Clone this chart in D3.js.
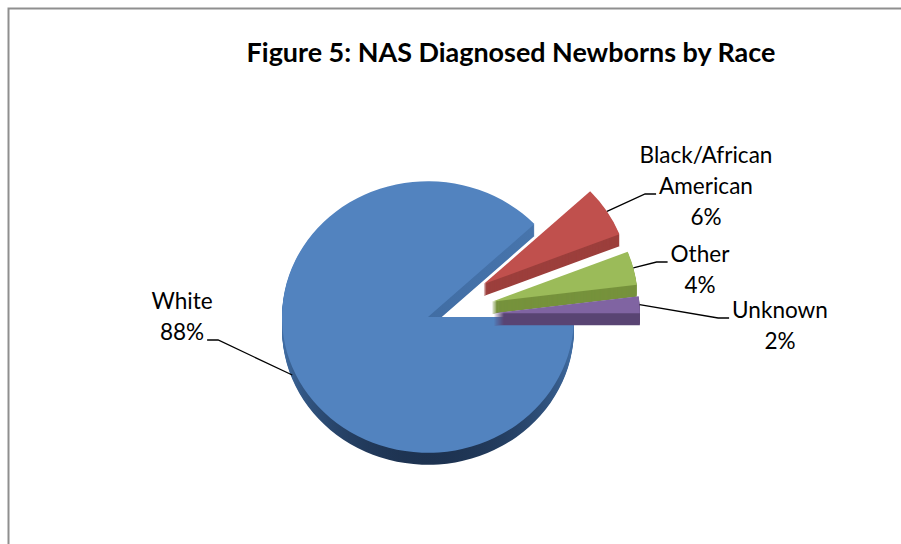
<!DOCTYPE html>
<html>
<head>
<meta charset="utf-8">
<script src="https://cdn.jsdelivr.net/npm/d3@7"></script>
<style>
  body { margin: 0; background: #fff; }
  svg { display: block; }
  text { font-family: Lato, "Open Sans", sans-serif; fill: #000; }
</style>
</head>
<body>
<svg id="chart" width="901" height="544"></svg>
<script>
// data
var categories = ['White', 'Black/African American', 'Other', 'Unknown'];
var percents = [88, 6, 4, 2];
var labelLines = [['White', '88%'], ['Black/African', 'American', '6%'], ['Other', '4%'], ['Unknown', '2%']];
var title = 'Figure 5: NAS Diagnosed Newborns by Race';

// colours: top surface / side
var topColors = ['#5283bf', '#c0504d', '#9bbb59', '#8064a2'];
var sideColors = ['url(#blueSide)', '#9c3f3c', '#76923c', '#5a4573'];

var W = 901, H = 544;
var cx = 428, cy = 317, R = 146, tilt = 0.93, depth = 12;
var explode = [0, 66, 66, 66];

// label layout (baseline of first line, centered) and leader attach
var labelPos = [[182, 309], [706, 163], [700, 262], [780, 318]];
var lineH = 31;
var attach = [{line: 1, side: 'right'}, {line: 1, side: 'left'}, {line: 0, side: 'left'}, {line: 0, side: 'left'}];

var svg = d3.select('#chart');

var defs = svg.append('defs');
var g = defs.append('linearGradient')
  .attr('id', 'blueSide')
  .attr('x1', 0).attr('y1', 0).attr('x2', 0).attr('y2', 1);
g.append('stop').attr('offset', '0%').attr('stop-color', '#4a78b0');
g.append('stop').attr('offset', '60%').attr('stop-color', '#3f6ba1');
g.append('stop').attr('offset', '85%').attr('stop-color', '#2b4a72');
g.append('stop').attr('offset', '100%').attr('stop-color', '#1d3250');

// chart border (right and bottom fall outside the picture)
svg.append('rect')
  .attr('x', 8.5).attr('y', 8.5)
  .attr('width', 1000).attr('height', 1000)
  .style('fill', 'none')
  .style('stroke', '#8f8f8f')
  .style('stroke-width', 2);

// title, sized to the reference width
var t = svg.append('text')
  .attr('x', 511).attr('y', 62)
  .style('text-anchor', 'middle')
  .style('font-weight', 'bold')
  .style('font-size', '26px')
  .text(title);
var tw = t.node().getComputedTextLength();
t.style('font-size', (26 * 529 / tw) + 'px');

var pie = d3.pie().sort(null)
  .startAngle(Math.PI / 2)
  .endAngle(Math.PI / 2 + 2 * Math.PI)
  .value(function(d) { return d; });
var arcs = pie(percents);

var arc = d3.arc().innerRadius(0).outerRadius(R);

function midAngle(d) { return (d.startAngle + d.endAngle) / 2; }
function offsetOf(i) {
  var a = midAngle(arcs[i]);
  return [explode[i] * Math.sin(a), -explode[i] * Math.cos(a) * tilt];
}

// draw order: big slice first, then small ones from back to front
var order = [0, 1, 2, 3];
order.forEach(function(i) {
  var d = arcs[i];
  var off = offsetOf(i);
  var slice = svg.append('g')
    .attr('transform', 'translate(' + (cx + off[0]) + ',' + (cy + off[1]) + ')');
  for (var k = depth; k >= 1; k--) {
    slice.append('g')
      .attr('transform', 'translate(0,' + k + ')')
      .append('path')
      .attr('d', arc(d))
      .attr('transform', 'scale(1,' + tilt + ')')
      .style('fill', sideColors[i]);
  }
  slice.append('path')
    .attr('d', arc(d))
    .attr('transform', 'scale(1,' + tilt + ')')
    .style('fill', topColors[i]);
});

// labels
var labelSize = 19;
var probe = svg.append('text').style('font-size', labelSize + 'px').text('Black/African');
labelSize = labelSize * 133 / probe.node().getComputedTextLength();
probe.remove();

labelLines.forEach(function(lines, i) {
  var lab = svg.append('text')
    .style('text-anchor', 'middle')
    .style('font-size', labelSize + 'px');
  var spans = lab.selectAll('tspan')
    .data(lines)
    .enter()
    .append('tspan')
    .attr('x', labelPos[i][0])
    .attr('y', function(d, j) { return labelPos[i][1] + j * lineH; })
    .text(function(d) { return d; });

  // leader line
  var a = attach[i];
  var node = spans.nodes()[a.line];
  var w = node.getComputedTextLength();
  var by = labelPos[i][1] + a.line * lineH;
  var edge = a.side === 'left' ? labelPos[i][0] - w / 2 - 3 : labelPos[i][0] + w / 2 + 3;
  var elbow = a.side === 'left' ? edge - 11 : edge + 11;
  var m = midAngle(arcs[i]);
  var rr = R + explode[i];
  var px = cx + rr * Math.sin(m);
  var py = cy - rr * Math.cos(m) * tilt;
  if (i === 0) py += 8;
  svg.append('path')
    .attr('d', d3.line()([[edge, by], [elbow, by], [px, py]]))
    .style('fill', 'none')
    .style('stroke', '#000')
    .style('stroke-width', 1.3);
});
</script>
</body>
</html>
